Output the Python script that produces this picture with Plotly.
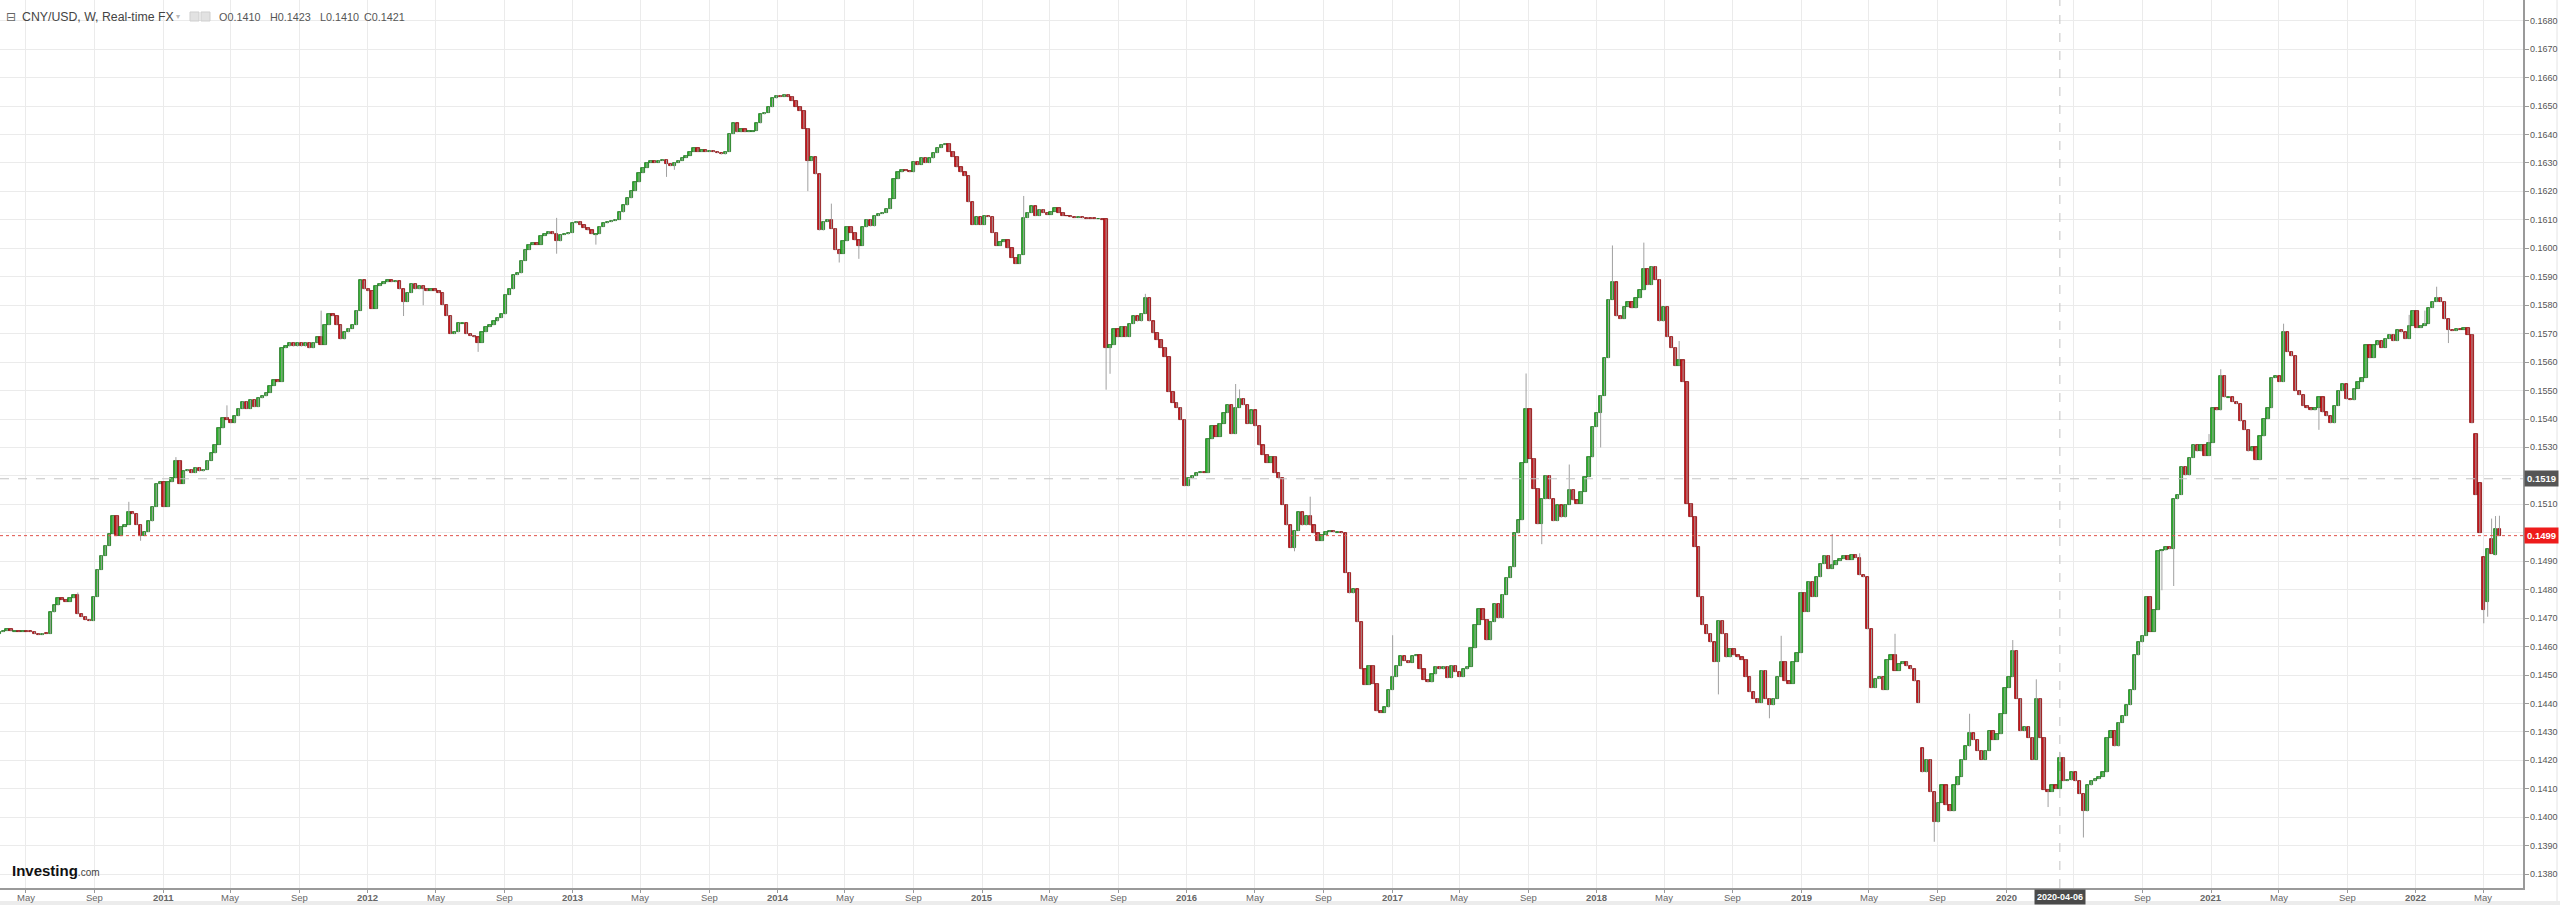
import plotly.graph_objects as go
import pandas as pd

# ---------------- data (weekly candles) ----------------
start_week = "2010-03-15"
first_open = 0.14645
closes = [
    0.14652, 0.14655, 0.14662, 0.14654, 0.14655, 0.14653, 0.14655, 0.14654, 0.14652, 0.14645,
    0.14642, 0.14646, 0.14645, 0.14720, 0.14745, 0.14770, 0.14765, 0.14758, 0.14770, 0.14780,
    0.14714, 0.14705, 0.14695, 0.14690, 0.14775, 0.14870, 0.14920, 0.14955, 0.14995, 0.15060,
    0.14990, 0.15022, 0.15028, 0.15072, 0.15066, 0.15028, 0.14990, 0.15003, 0.15040, 0.15091,
    0.15172, 0.15178, 0.15091, 0.15178, 0.15191, 0.15254, 0.15172, 0.15216, 0.15222, 0.15210,
    0.15229, 0.15216, 0.15222, 0.15254, 0.15279, 0.15310, 0.15367, 0.15404, 0.15398, 0.15385,
    0.15410, 0.15436, 0.15461, 0.15436, 0.15467, 0.15442, 0.15473, 0.15480, 0.15492, 0.15517,
    0.15536, 0.15530, 0.15649, 0.15655, 0.15668, 0.15655, 0.15668, 0.15655, 0.15668, 0.15649,
    0.15668, 0.15687, 0.15661, 0.15730, 0.15768, 0.15762, 0.15730, 0.15680, 0.15705, 0.15718,
    0.15730, 0.15781, 0.15887, 0.15856, 0.15850, 0.15787, 0.15868, 0.15875, 0.15881, 0.15887,
    0.15881, 0.15884, 0.15856, 0.15812, 0.15843, 0.15875, 0.15856, 0.15868, 0.15858, 0.15850,
    0.15856, 0.15850, 0.15843, 0.15800, 0.15762, 0.15699, 0.15705, 0.15737, 0.15737, 0.15699,
    0.15693, 0.15687, 0.15668, 0.15705, 0.15724, 0.15730, 0.15743, 0.15755, 0.15768, 0.15837,
    0.15856, 0.15906, 0.15912, 0.15956, 0.15994, 0.16013, 0.16019, 0.16013, 0.16044, 0.16050,
    0.16059, 0.16050, 0.16025, 0.16047, 0.16049, 0.16054, 0.16088, 0.16094, 0.16082, 0.16072,
    0.16063, 0.16050, 0.16050, 0.16076, 0.16088, 0.16092, 0.16097, 0.16101, 0.16126, 0.16151,
    0.16176, 0.16201, 0.16232, 0.16264, 0.16283, 0.16301, 0.16308, 0.16301, 0.16308, 0.16311,
    0.16296, 0.16289, 0.16301, 0.16308, 0.16318, 0.16326, 0.16339, 0.16352, 0.16339, 0.16345,
    0.16339, 0.16343, 0.16339, 0.16335, 0.16330, 0.16339, 0.16402, 0.16439, 0.16408, 0.16418,
    0.16408, 0.16411, 0.16413, 0.16439, 0.16471, 0.16477, 0.16496, 0.16527, 0.16537, 0.16533,
    0.16540, 0.16533, 0.16518, 0.16498, 0.16483, 0.16421, 0.16308, 0.16320, 0.16260, 0.16063,
    0.16094, 0.16101, 0.16069, 0.15994, 0.15981, 0.16025, 0.16076, 0.16055, 0.16028, 0.16009,
    0.16074, 0.16101, 0.16077, 0.16114, 0.16121, 0.16125, 0.16138, 0.16175, 0.16243, 0.16267,
    0.16276, 0.16272, 0.16267, 0.16304, 0.16294, 0.16318, 0.16300, 0.16316, 0.16335, 0.16353,
    0.16364, 0.16368, 0.16340, 0.16322, 0.16285, 0.16267, 0.16254, 0.16162, 0.16083, 0.16110,
    0.16083, 0.16114, 0.16110, 0.16055, 0.16009, 0.16022, 0.16028, 0.16000, 0.15967, 0.15945,
    0.15978, 0.16107, 0.16125, 0.16147, 0.16114, 0.16136, 0.16125, 0.16118, 0.16129, 0.16141,
    0.16125, 0.16114, 0.16113, 0.16110, 0.16108, 0.16110, 0.16106, 0.16105, 0.16104, 0.16103,
    0.16103, 0.16102, 0.15651, 0.15660, 0.15715, 0.15688, 0.15725, 0.15688, 0.15734, 0.15761,
    0.15743, 0.15770, 0.15825, 0.15743, 0.15702, 0.15678, 0.15651, 0.15618, 0.15495, 0.15458,
    0.15440, 0.15398, 0.15164, 0.15191, 0.15200, 0.15210, 0.15211, 0.15210, 0.15329, 0.15375,
    0.15338, 0.15384, 0.15421, 0.15449, 0.15347, 0.15440, 0.15471, 0.15449, 0.15384, 0.15430,
    0.15375, 0.15307, 0.15274, 0.15246, 0.15268, 0.15210, 0.15191, 0.15099, 0.15026, 0.14948,
    0.15007, 0.15072, 0.15026, 0.15059, 0.15026, 0.14998, 0.14971, 0.14993, 0.15004, 0.15007,
    0.15002, 0.15002, 0.14998, 0.14860, 0.14787, 0.14801, 0.14686, 0.14520, 0.14465, 0.14533,
    0.14469, 0.14373, 0.14368, 0.14386, 0.14447, 0.14493, 0.14533, 0.14566, 0.14551, 0.14544,
    0.14566, 0.14570, 0.14520, 0.14484, 0.14474, 0.14502, 0.14530, 0.14520, 0.14530, 0.14489,
    0.14533, 0.14511, 0.14493, 0.14520, 0.14530, 0.14594, 0.14677, 0.14732, 0.14695, 0.14622,
    0.14686, 0.14750, 0.14699, 0.14783, 0.14842, 0.14879, 0.14998, 0.15044, 0.15246, 0.15434,
    0.15261, 0.15155, 0.15030, 0.15118, 0.15201, 0.15118, 0.15041, 0.15096, 0.15054, 0.15099,
    0.15151, 0.15114, 0.15103, 0.15145, 0.15195, 0.15265, 0.15372, 0.15421, 0.15482, 0.15614,
    0.15820, 0.15880, 0.15761, 0.15752, 0.15794, 0.15811, 0.15789, 0.15825, 0.15853, 0.15927,
    0.15871, 0.15936, 0.15890, 0.15743, 0.15794, 0.15688, 0.15651, 0.15587, 0.15606, 0.15530,
    0.15103, 0.15057, 0.14950, 0.14775, 0.14676, 0.14645, 0.14615, 0.14547, 0.14691, 0.14645,
    0.14562, 0.14592, 0.14569, 0.14562, 0.14554, 0.14493, 0.14440, 0.14417, 0.14402, 0.14516,
    0.14417, 0.14394, 0.14417, 0.14493, 0.14547, 0.14478, 0.14470, 0.14547, 0.14577, 0.14790,
    0.14722, 0.14828, 0.14775, 0.14844, 0.14890, 0.14920, 0.14874, 0.14886, 0.14902, 0.14908,
    0.14920, 0.14905, 0.14923, 0.14912, 0.14851, 0.14844, 0.14661, 0.14455, 0.14486, 0.14493,
    0.14447, 0.14554, 0.14569, 0.14516, 0.14539, 0.14547, 0.14531, 0.14520, 0.14478, 0.14402,
    0.14158, 0.14203, 0.14089, 0.13982, 0.14051, 0.14112, 0.14043, 0.14021, 0.14112, 0.14143,
    0.14203, 0.14249, 0.14295, 0.14272, 0.14234, 0.14203, 0.14234, 0.14303, 0.14272, 0.14292,
    0.14364, 0.14455, 0.14493, 0.14585, 0.14417, 0.14303, 0.14318, 0.14280, 0.14203, 0.14417,
    0.14280, 0.14097, 0.14089, 0.14112, 0.14100, 0.14210, 0.14127, 0.14130, 0.14158, 0.14127,
    0.14082, 0.14021, 0.14112, 0.14127, 0.14135, 0.14143, 0.14158, 0.14280, 0.14303, 0.14249,
    0.14333, 0.14356, 0.14394, 0.14447, 0.14569, 0.14615, 0.14638, 0.14775, 0.14653, 0.14729,
    0.14935, 0.14938, 0.14950, 0.14943, 0.15118, 0.15133, 0.15232, 0.15202, 0.15263, 0.15309,
    0.15286, 0.15309, 0.15270, 0.15316, 0.15438, 0.15430, 0.15552, 0.15476, 0.15476, 0.15461,
    0.15453, 0.15392, 0.15362, 0.15286, 0.15300, 0.15255, 0.15339, 0.15400, 0.15438, 0.15545,
    0.15550, 0.15530, 0.15705, 0.15636, 0.15621, 0.15499, 0.15484, 0.15446, 0.15438, 0.15430,
    0.15438, 0.15476, 0.15423, 0.15410, 0.15385, 0.15446, 0.15499, 0.15522, 0.15469, 0.15466,
    0.15507, 0.15530, 0.15545, 0.15659, 0.15614, 0.15659, 0.15674, 0.15651, 0.15682, 0.15697,
    0.15674, 0.15712, 0.15705, 0.15682, 0.15728, 0.15781, 0.15720, 0.15728, 0.15735, 0.15790,
    0.15812, 0.15827, 0.15812, 0.15751, 0.15712, 0.15710, 0.15715, 0.15714, 0.15720, 0.15697,
    0.15385, 0.15133, 0.15000, 0.14728, 0.14942, 0.14927, 0.15015, 0.14990,
]
# weeks whose open is not the previous close (gaps), keyed by week number
open_gaps = {490: 0.14242, 631: 0.15347, 632: 0.15175, 633: 0.14914,
             634: 0.14758, 635: 0.14978, 636: 0.14921}
# visible wick extremes, keyed by week number
wick_highs = {20: 0.14790, 33: 0.15109, 45: 0.15266, 58: 0.15448, 82: 0.15781,
              142: 0.16107, 212: 0.16157, 261: 0.16184, 292: 0.15840, 315: 0.15523,
              316: 0.15504, 334: 0.15127, 355: 0.14640, 389: 0.15560, 400: 0.15240,
              411: 0.16010, 419: 0.16020, 428: 0.15674, 454: 0.14638, 467: 0.14996,
              474: 0.14928, 483: 0.14645, 502: 0.14364, 513: 0.14623, 519: 0.14485,
              525: 0.14230, 563: 0.15347, 566: 0.15575, 582: 0.15735, 614: 0.15766,
              618: 0.15781, 621: 0.15865, 635: 0.15050, 636: 0.15059, 637: 0.15060}
wick_lows = {36: 0.14972, 103: 0.15762, 108: 0.15800, 122: 0.15636, 142: 0.15981,
             152: 0.16013, 170: 0.16251, 172: 0.16276, 206: 0.16201, 214: 0.15950,
             219: 0.15963, 282: 0.15503, 283: 0.15559, 330: 0.14935, 393: 0.14960,
             408: 0.15300, 438: 0.14432, 451: 0.14348, 493: 0.13914, 522: 0.14036,
             525: 0.14100, 531: 0.13929, 551: 0.14798, 554: 0.14813, 591: 0.15362,
             624: 0.15667, 633: 0.14682, 634: 0.14705}

crosshair_date = "2020-04-06"
crosshair_price = 0.1519
last_price = 0.1499
legend_title = "CNY/USD, W, Real-time FX"
legend_ohlc = ["O0.1410", "H0.1423", "L0.1410", "C0.1421"]
y_tick_labels = ["%.4f" % (0.1380 + 0.001 * k) for k in range(31)]
month_labels = {5: "May", 9: "Sep"}
years = list(range(2010, 2023))

# ---------------- build candles ----------------
dates = pd.date_range(start_week, periods=len(closes), freq="7D")
opens, highs, lows = [], [], []
for i, c in enumerate(closes):
    o = first_open if i == 0 else open_gaps.get(i, closes[i - 1])
    opens.append(o)
    highs.append(max(o, c, wick_highs.get(i, 0)))
    lows.append(min(o, c, wick_lows.get(i, 1)))

MIN_H = 0.00003
bases, heights, fills, edges = [], [], [], []
for o, c in zip(opens, closes):
    lo, hi = min(o, c), max(o, c)
    if hi - lo < MIN_H:
        mid = (hi + lo) / 2
        lo, hi = mid - MIN_H / 2, mid + MIN_H / 2
    bases.append(lo)
    heights.append(hi - lo)
    if c >= o:
        fills.append("#2bb52b"); edges.append("#1a701a")
    else:
        fills.append("#cc161c"); edges.append("#870b0e")

wx, wy = [], []
for d, h, l in zip(dates, highs, lows):
    wx += [d, d, None]
    wy += [l, h, None]

fig = go.Figure()
fig.add_trace(go.Scatter(x=wx, y=wy, mode="lines",
                         line=dict(color="#a0a0a0", width=1), hoverinfo="skip"))
fig.add_trace(go.Bar(x=dates, y=heights, base=bases,
                     width=6.0 * 86400000,
                     marker=dict(color=fills, line=dict(color=edges, width=0.8)),
                     hoverinfo="skip"))

# ---------------- axes ----------------
tickvals, ticktext = [], []
for yr in years:
    if yr > 2010:
        tickvals.append("%d-01-01" % yr); ticktext.append("<b>%d</b>" % yr)
    for m, name in month_labels.items():
        d = "%d-%02d-01" % (yr, m)
        if pd.Timestamp(d) < pd.Timestamp("2022-07-01"):
            tickvals.append(d)
            ticktext.append(name)

PW, PH = 2523, 888
font_lab = "Liberation Sans, Arial, sans-serif"

fig.update_layout(
    width=2560, height=905,
    margin=dict(l=0, r=2560 - PW, t=0, b=905 - PH, autoexpand=False),
    paper_bgcolor="white", plot_bgcolor="white",
    showlegend=False, bargap=0,
    xaxis=dict(type="date", range=["2010-03-16 06:00:00", "2022-07-11"],
               tickvals=tickvals, showticklabels=False, automargin=False,
               showgrid=True, gridcolor="#ebebeb", gridwidth=1,
               ticks="outside", ticklen=3, tickcolor="#999",
               showline=True, linecolor="#9a9a9a", linewidth=1.5,
               zeroline=False, fixedrange=True),
    yaxis=dict(side="right", range=[0.137515, 0.168728],
               tickvals=[float(t) for t in y_tick_labels], showticklabels=False,
               automargin=False,
               showgrid=True, gridcolor="#ebebeb", gridwidth=1,
               ticks="outside", ticklen=4, tickcolor="#999",
               showline=True, linecolor="#9a9a9a", linewidth=2,
               zeroline=False, fixedrange=True),
)

shapes = [
    # bottom light strip
    dict(type="rect", xref="paper", yref="paper", x0=0, x1=2560 / PW,
         y0=-(905 - PH) / PH, y1=-(901 - PH) / PH,
         fillcolor="#ececec", line=dict(width=0), layer="below"),
    # right container border
    dict(type="line", xref="paper", yref="paper", x0=2557 / PW, x1=2557 / PW,
         y0=-(901 - PH) / PH, y1=1, line=dict(color="#e4e4e4", width=1)),
    # last price (red dotted)
    dict(type="line", xref="paper", yref="y", x0=0, x1=1, y0=last_price, y1=last_price,
         line=dict(color="#e0524a", width=1, dash="dot")),
    # crosshair horizontal
    dict(type="line", xref="paper", yref="y", x0=0, x1=1, y0=crosshair_price, y1=crosshair_price,
         line=dict(color="#c4c4c4", width=1, dash="dash")),
    # crosshair vertical
    dict(type="line", xref="x", yref="paper", x0=crosshair_date, x1=crosshair_date, y0=0, y1=1,
         line=dict(color="#c4c4c4", width=1, dash="dash")),
    # legend icons
    dict(type="rect", xref="paper", yref="paper", x0=190 / PW, x1=199 / PW,
         y0=1 - 21 / PH, y1=1 - 12 / PH, fillcolor="#e2e2e2", line=dict(color="#cfcfcf", width=1)),
    dict(type="rect", xref="paper", yref="paper", x0=201 / PW, x1=210 / PW,
         y0=1 - 21 / PH, y1=1 - 12 / PH, fillcolor="#e2e2e2", line=dict(color="#cfcfcf", width=1)),
]
fig.update_layout(shapes=shapes)

ann = []
# x-axis labels
lab_y = -(897 - PH) / PH
for tv, tt in zip(tickvals, ticktext):
    if tv == "2020-05-01":
        continue  # hidden under the crosshair date box
    ann.append(dict(text=tt, x=tv, y=lab_y, xref="x", yref="paper",
                    xanchor="center", yanchor="middle", showarrow=False, borderpad=0,
                    font=dict(family=font_lab, size=9.5, color="#666")))
# y-axis labels
for t in y_tick_labels:
    ann.append(dict(text=t, x=(PW + 6) / PW, y=float(t), xref="paper", yref="y",
                    xanchor="left", yanchor="middle", showarrow=False, borderpad=0,
                    font=dict(family=font_lab, size=9, color="#555")))

legend_y = 1 - 17 / PH
ann.append(dict(text="⊟", x=5 / PW, y=legend_y, xref="paper", yref="paper",
                xanchor="left", yanchor="middle", showarrow=False, borderpad=0,
                font=dict(family="DejaVu Sans", size=12, color="#666")))
ann.append(dict(text=legend_title, x=21 / PW, y=legend_y, xref="paper", yref="paper",
                xanchor="left", yanchor="middle", showarrow=False, borderpad=0,
                font=dict(family=font_lab, size=12.3, color="#444")))
ann.append(dict(text="▾", x=175 / PW, y=legend_y, xref="paper", yref="paper",
                xanchor="left", yanchor="middle", showarrow=False, borderpad=0,
                font=dict(family="DejaVu Sans", size=8, color="#bbb")))
for txt, px in zip(legend_ohlc, [218, 269, 319, 363]):
    ann.append(dict(text=txt, x=px / PW, y=legend_y, xref="paper", yref="paper",
                    xanchor="left", yanchor="middle", showarrow=False, borderpad=0,
                    font=dict(family=font_lab, size=10.8, color="#555")))
# price labels on the right axis
ann.append(dict(text="<b>%.4f</b>" % crosshair_price, x=(PW + 1) / PW, y=crosshair_price,
                xref="paper", yref="y", xanchor="left", yanchor="middle", showarrow=False,
                bgcolor="#555555", borderpad=2,
                font=dict(family=font_lab, size=9.5, color="white")))
ann.append(dict(text="<b>%.4f</b>" % last_price, x=(PW + 1) / PW, y=last_price,
                xref="paper", yref="y", xanchor="left", yanchor="middle", showarrow=False,
                bgcolor="#ee1c1c", borderpad=2,
                font=dict(family=font_lab, size=9.5, color="white")))
# crosshair date label
ann.append(dict(text="<b>%s</b>" % crosshair_date, x=crosshair_date, y=-(897 - PH) / PH,
                xref="x", yref="paper", xanchor="center", yanchor="middle", showarrow=False,
                bgcolor="#4a4a4a", borderpad=2,
                font=dict(family=font_lab, size=9, color="white")))
# logo
ann.append(dict(text="<b>Investing</b><span style='font-size:10px;color:#444'>.com</span>",
                x=11 / PW, y=1 - 870 / PH, xref="paper", yref="paper",
                xanchor="left", yanchor="middle", showarrow=False, borderpad=0,
                font=dict(family=font_lab, size=15, color="#111")))
fig.update_layout(annotations=ann)

fig.write_html("out.html", config={"displayModeBar": False},
               post_script="document.body.style.margin='0';document.body.style.overflow='hidden';")
